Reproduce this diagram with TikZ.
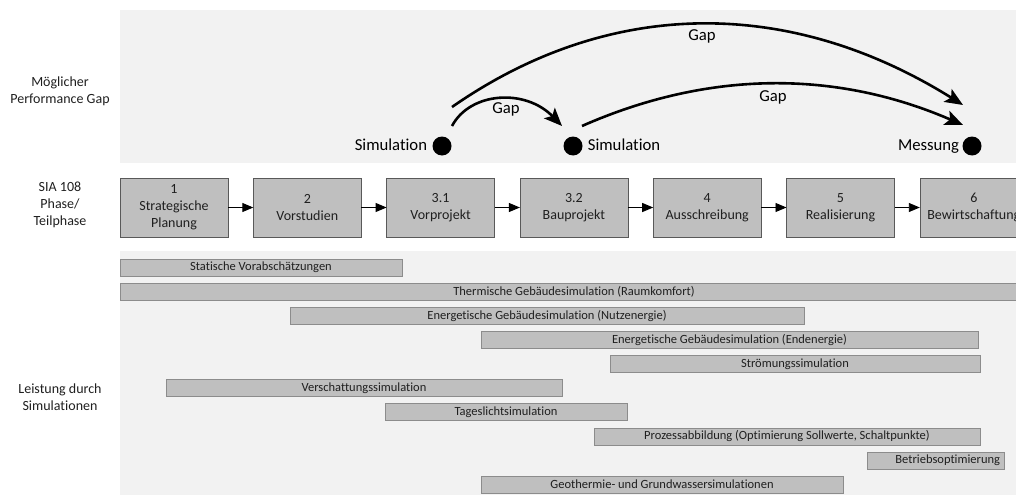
\documentclass[tikz,border=0pt]{standalone}
\usepackage{fontspec}
\setmainfont{Carlito}[Ligatures=NoCommon]
\usetikzlibrary{arrows.meta, positioning}
\definecolor{panelgray}{HTML}{F2F2F2}
\definecolor{boxgray}{HTML}{BFBFBF}
\definecolor{boxline}{HTML}{595959}
\definecolor{barline}{HTML}{8C8C8C}
\definecolor{darktext}{HTML}{1F1F1F}

\begin{document}
\begin{tikzpicture}[x=1pt, y=-1pt,
    phase/.style={draw=boxline, fill=boxgray, text=darktext, font=\fontsize{14}{17}\selectfont, minimum width=108pt, minimum height=59pt, inner sep=0pt, outer sep=0pt, align=center},
    simbar/.style={draw=barline, fill=boxgray, text=darktext, font=\fontsize{12.5}{14}\selectfont, minimum height=17pt, inner sep=0pt, outer sep=0pt},
    rowlabel/.style={text=darktext, font=\fontsize{14}{17}\selectfont, align=center},
    dot/.style={circle, fill=black, minimum size=19pt, inner sep=0pt},
    toptext/.style={text=black, font=\fontsize{16.7}{20}\selectfont, text height=12pt, text depth=3.5pt, inner sep=2pt},
    gaparr/.style={-{Stealth[length=18pt, width=15pt, inset=4pt]}, line width=2.6pt},
    phasearr/.style={-{Triangle[length=11pt, width=9pt]}, line width=0.9pt}
]
    \useasboundingbox (0,0) rectangle (1016,495);
    \clip (0,0) rectangle (1016,495);

    % panels
    \fill[panelgray] (120,10) rectangle (1016,163);
    \fill[panelgray] (120,251) rectangle (1016,495);

    % row labels
    \node[rowlabel] (gaplbl) at (60,91) {Möglicher\\Performance Gap};
    \node[rowlabel] (phaselbl) at (60,205) {SIA 108\\Phase/\\Teilphase};
    \node[rowlabel] (simlbl) at (60,397) {Leistung durch\\Simulationen};

    % SIA 108 phases
    \node[phase] (p1) at (174,207.5) {1\\Strategische\\Planung};
    \node[phase, right=25.3pt of p1] (p2) {2\\Vorstudien};
    \node[phase, right=25.3pt of p2] (p31) {3.1\\Vorprojekt};
    \node[phase, right=25.3pt of p31] (p32) {3.2\\Bauprojekt};
    \node[phase, right=25.3pt of p32] (p4) {4\\Ausschreibung};
    \node[phase, right=25.3pt of p4] (p5) {5\\Realisierung};
    \node[phase, right=25.3pt of p5] (p6) {6\\Bewirtschaftung};
    \foreach \a/\b in {p1/p2, p2/p31, p31/p32, p32/p4, p4/p5, p5/p6}
        \draw[phasearr] (\a) -- (\b);

    % performance gap
    \node[dot] (sim1) at (442,146) {};
    \node[dot] (sim2) at (573,146) {};
    \node[dot] (mess) at (972,146) {};
    \node[toptext, left=3pt of sim1] (sim1txt) {Simulation};
    \node[toptext, right=3pt of sim2] (sim2txt) {Simulation};
    \node[toptext, left=1pt of mess] (messtxt) {Messung};

    \coordinate (gapAa) at (452,126);
    \coordinate (gapAb) at (562,126);
    \coordinate (gapBa) at (452,107);
    \coordinate (gapBb) at (963,105);
    \coordinate (gapCa) at (582,126);
    \coordinate (gapCb) at (963,125);
    \draw[gaparr] (gapAa) .. controls (470,92) and (525,88) .. (gapAb);
    \draw[gaparr] (gapBa) .. controls (610,-3) and (790,-3) .. (gapBb);
    \draw[gaparr] (gapCa) .. controls (709,70) and (836,70) .. (gapCb);
    \node[toptext] (gapA) at (506,109) {Gap};
    \node[toptext] (gapB) at (702,36) {Gap};
    \node[toptext] (gapC) at (773,97) {Gap};

    % simulations
    \foreach \name/\xa/\xb/\row/\txt in {
        sva/120/402/0/Statische Vorabschätzungen,
        tgs/120/1028/1/Thermische Gebäudesimulation (Raumkomfort),
        egn/290/804/2/Energetische Gebäudesimulation (Nutzenergie),
        ege/481/978/3/Energetische Gebäudesimulation (Endenergie),
        sts/610/980/4/Strömungssimulation,
        vss/166/562/5/Verschattungssimulation,
        tls/385/627/6/Tageslichtsimulation,
        pab/594/980/7/{Prozessabbildung (Optimierung Sollwerte, Schaltpunkte)},
        ggw/481/843/9/Geothermie- und Grundwassersimulationen}
        \node[simbar, minimum width={\xb-\xa}] (\name) at ({(\xa+\xb)/2},{267.5+24.1*\row}) {\txt};
    \node[simbar, minimum width=137pt, text width=129pt, align=right] (bop) at (935.5,460.3) {Betriebsoptimierung};
\end{tikzpicture}
\end{document}
